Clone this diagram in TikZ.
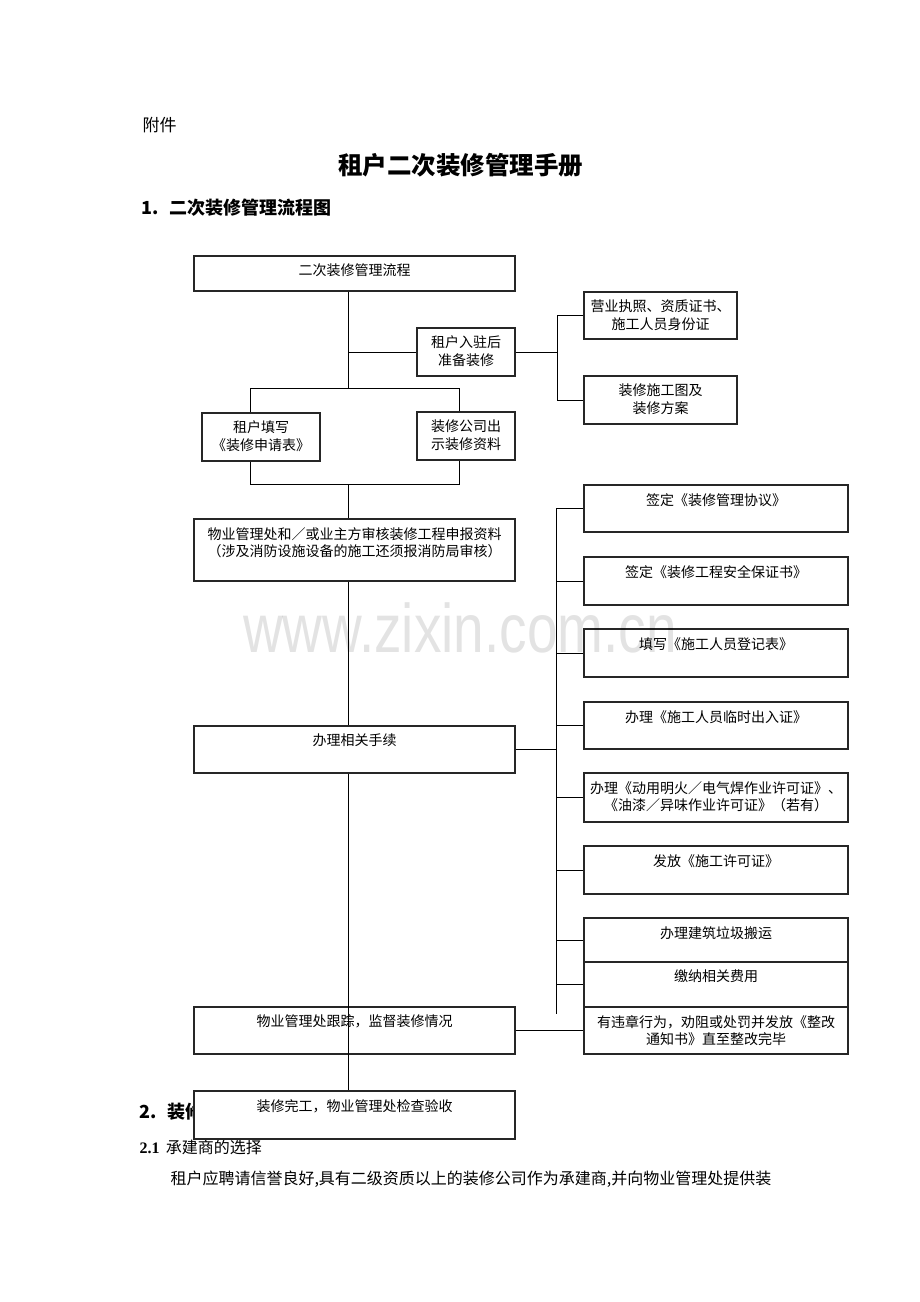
\documentclass[tikz,border=0pt]{standalone}
\usepackage{fontspec}
\setmainfont{Noto Sans CJK SC}
\newfontfamily\latinserif{Liberation Serif}
\newfontfamily\latinsans{Liberation Sans}
\newcommand{\kfont}{\fontsize{14pt}{17.5pt}\selectfont}

\begin{document}
\begin{tikzpicture}[x=1pt,y=-1pt,
        box/.style={draw=black!85, line width=1.1pt, inner sep=0pt},
        txt/.style={anchor=north, yshift=-8.5pt, align=center, inner sep=0pt, font=\kfont},
        veza/.style={line width=0.9pt}]
        \useasboundingbox[fill=white] (0,0) rectangle (920,1302);

        % naslovi i tekst stranice
        \node[anchor=west, font=\fontsize{17pt}{20pt}\selectfont] (fujian) at (139,125) {附件};
        \node[font=\fontsize{24.5pt}{28pt}\selectfont\bfseries] (biaoti) at (460.5,165) {租户二次装修管理手册};
        \node[anchor=west, font=\fontsize{18pt}{20pt}\selectfont\bfseries] (zhang1) at (138,208) {1.\hspace{0.6em}二次装修管理流程图};
        \node[anchor=west, font=\fontsize{18pt}{20pt}\selectfont\bfseries] (zhang2) at (136,1112) {2.\hspace{0.6em}装修};
        \node[anchor=west, font=\fontsize{16pt}{18pt}\selectfont] (jie21) at (136,1147) {{\latinserif\bfseries 2.1}\hspace{0.4em}承建商的选择};
        \node[anchor=west, font=\fontsize{16pt}{18pt}\selectfont] (zhengwen) at (167,1179) {租户应聘请信誉良好,具有二级资质以上的装修公司作为承建商,并向物业管理处提供装};

        % lijeva strana
        \node[box, minimum width=321pt, minimum height=35pt, label={[txt]north:二次装修管理流程}] (liucheng) at (354.5,273.5) {};
        \node[box, minimum width=98pt, minimum height=48pt, label={[txt]north:租户入驻后\\准备装修}] (ruzhu) at (466,352) {};
        \node[box, minimum width=118pt, minimum height=48pt, label={[txt]north:租户填写\\《装修申请表》}] (shenqing) at (261,437) {};
        \node[box, minimum width=98pt, minimum height=48pt, label={[txt]north:装修公司出\\示装修资料}] (ziliao) at (466,436) {};
        \node[box, minimum width=321pt, minimum height=62pt, label={[txt]north:物业管理处和／或业主方审核装修工程申报资料\\（涉及消防设施设备的施工还须报消防局审核）}] (shenhe) at (354.5,550) {};
        \node[box, minimum width=321pt, minimum height=47pt, label={[txt]north:办理相关手续}] (banli) at (354.5,749.5) {};
        \node[box, minimum width=321pt, minimum height=47pt, label={[txt]north:物业管理处跟踪，监督装修情况}] (genzong) at (354.5,1030.5) {};
        \node[box, fill=white, minimum width=321pt, minimum height=48pt, label={[txt]north:装修完工，物业管理处检查验收}] (yanshou) at (354.5,1115) {};

        % desna strana
        \node[box, minimum width=153pt, minimum height=47pt, label={[txt]north:营业执照、资质证书、\\施工人员身份证}] (zhengzhao) at (660.5,315.5) {};
        \node[box, minimum width=153pt, minimum height=48pt, label={[txt]north:装修施工图及\\装修方案}] (tuzhi) at (660.5,400) {};
        \node[box, minimum width=264pt, minimum height=47pt, label={[txt]north:签定《装修管理协议》}] (p1) at (716,508.5) {};
        \node[box, minimum width=264pt, minimum height=48pt, label={[txt]north:签定《装修工程安全保证书》}] (p2) at (716,581) {};
        \node[box, minimum width=264pt, minimum height=48pt, label={[txt]north:填写《施工人员登记表》}] (p3) at (716,653) {};
        \node[box, minimum width=264pt, minimum height=47pt, label={[txt]north:办理《施工人员临时出入证》}] (p4) at (716,725.5) {};
        \node[box, minimum width=264pt, minimum height=49pt, label={[txt]north:办理《动用明火／电气焊作业许可证》、\\《油漆／异味作业许可证》（若有）}] (p5) at (716,797.5) {};
        \node[box, minimum width=264pt, minimum height=48pt, label={[txt]north:发放《施工许可证》}] (p6) at (716,870) {};
        \node[box, minimum width=264pt, minimum height=44pt, label={[txt]north:办理建筑垃圾搬运}] (p7) at (716,940) {};
        \node[box, minimum width=264pt, minimum height=45pt, label={[txt]north:缴纳相关费用}] (p8) at (716,984.5) {};
        \node[box, minimum width=264pt, minimum height=47pt, label={[txt]north:有违章行为，劝阻或处罚并发放《整改\\通知书》直至整改完毕}] (weizhang) at (716,1030.5) {};

        % tocke za linije
        \coordinate (kic) at (348,0);
        \coordinate (lv) at (250,388);
        \coordinate (dv) at (459,388);
        \coordinate (lv2) at (250,484);
        \coordinate (dv2) at (459,484);
        \coordinate (z1) at (557,0);
        \coordinate (z2) at (556,0);
        \coordinate (kraj) at (556,1014);

        % kicma
        \draw[veza] (liucheng.south -| kic) -- (lv -| kic);
        \draw[veza] (ruzhu.west -| kic) -- (ruzhu.west);
        \draw[veza] (shenqing.north -| lv) -- (lv) -- (dv) -- (ziliao.north -| dv);
        \draw[veza] (shenqing.south -| lv2) -- (lv2) -- (dv2) -- (ziliao.south -| dv2);
        \draw[veza] (lv2 -| kic) -- (shenhe.north -| kic);
        \draw[veza] (shenhe.south -| kic) -- (banli.north -| kic);
        \draw[veza] (banli.south -| kic) -- (yanshou.north -| kic);

        % grane desno
        \draw[veza] (ruzhu.east) -- (ruzhu.east -| z1);
        \draw[veza] (zhengzhao.west) -- (zhengzhao.west -| z1) -- (tuzhi.west -| z1) -- (tuzhi.west);
        \draw[veza] (p1.west) -- (p1.west -| z2) -- (kraj);
        \foreach \i in {2,...,8}
            \draw[veza] (p\i.west) -- (p\i.west -| z2);
        \draw[veza] (banli.east) -- (banli.east -| z2);
        \draw[veza] (genzong.east) -- (weizhang.west);

        % vodeni znak
        \node[anchor=base, yscale=1.25, transform shape, font=\latinsans\fontsize{55pt}{60pt}\selectfont, text=black, text opacity=0.11] (shuiyin) at (460,652) {www.zixin.com.cn};
    \end{tikzpicture}
\end{document}
